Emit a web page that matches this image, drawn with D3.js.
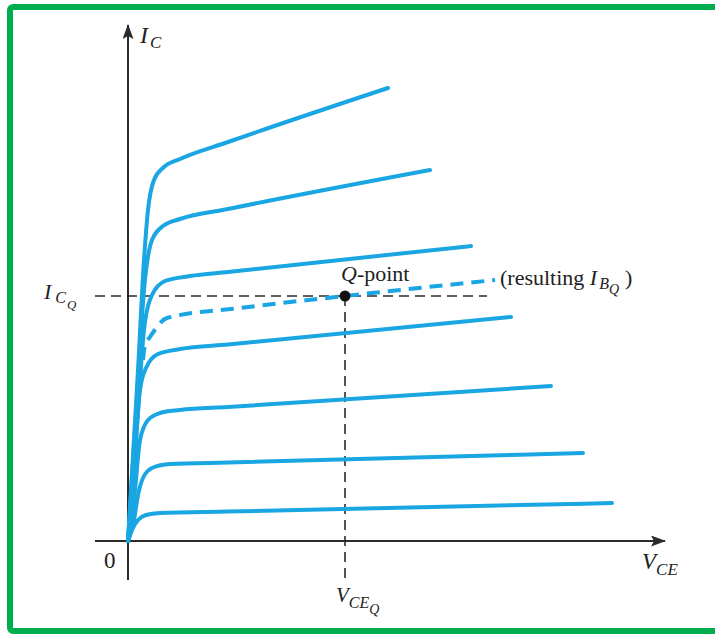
<!DOCTYPE html>
<html>
<head>
<meta charset="utf-8">
<script src="https://cdn.jsdelivr.net/npm/d3@7"></script>
<style>
  body { margin: 0; background: #fff; }
  text { font-family: "Liberation Serif", "DejaVu Serif", serif; fill: #222; }
</style>
</head>
<body>
<svg id="mainSVG" width="715" height="634"></svg>
<script>
// Curvas de saida (Vce, Ic), de baixo para cima
var curve1 = [[0,0],[0.16,0.22],[0.4,0.42],[0.72,0.52],[1.28,0.56],[4,0.59],[19.36,0.76]];
var curve2 = [[0,0],[0.24,0.42],[0.4,0.92],[0.6,1.26],[0.96,1.46],[1.68,1.54],[4,1.57],[18.2,1.76]];
var curve3 = [[0,0],[0.28,1.02],[0.48,2.02],[0.8,2.42],[1.28,2.56],[2.08,2.62],[4,2.68],[16.92,3.1]];
var curve4 = [[0,0],[0.24,1.42],[0.48,3.02],[0.72,3.46],[1.2,3.74],[2.08,3.84],[4,3.93],[15.32,4.48]];
var curve5 = [[0,0],[0.32,2.02],[0.64,4.22],[0.96,4.92],[1.48,5.2],[2.48,5.3],[4,5.38],[13.72,5.9]];
var curve6 = [[0,0],[0.36,2.82],[0.64,5.02],[0.96,6.02],[1.4,6.3],[2.08,6.44],[4,6.64],[12.08,7.42]];
var curve7 = [[0,0],[0.4,3.42],[0.64,5.62],[0.8,6.62],[1.04,7.22],[1.44,7.48],[2.08,7.64],[4,7.98],[10.4,9.06]];
// curva tracejada (I_BQ resultante)
var curveQ = [[0.6,3.62],[0.68,3.92],[0.88,4.08],[1.56,4.46],[4.48,4.66],[8.68,4.9],[14.68,5.22]];
// ponto Q
var qPoint = [8.68, 4.9];

var solidCurves = [curve1, curve2, curve3, curve4, curve5, curve6, curve7];

var mainSVG = d3.select("#mainSVG");
var blue = "#19a6e2";
var axisColor = "#2b2b2b";

// moldura verde
mainSVG.append("rect")
	.attr("x", 10).attr("y", 7)
	.attr("width", 740).attr("height", 624)
	.attr("rx", 3)
	.attr("fill", "none")
	.attr("stroke", "#00ad4f")
	.attr("stroke-width", 6);

// escalas
var xScale = d3.scaleLinear().domain([0, 20]).range([128, 628]);
var yScale = d3.scaleLinear().domain([0, 10]).range([541, 41]);

// setas
var defs = mainSVG.append("defs");
defs.append("marker")
	.attr("id", "arrow")
	.attr("viewBox", "0 0 15 11")
	.attr("refX", 14).attr("refY", 5.5)
	.attr("markerWidth", 15).attr("markerHeight", 11)
	.attr("markerUnits", "userSpaceOnUse")
	.attr("orient", "auto")
	.append("path")
	.attr("d", "M0,0 L15,5.5 L0,11 L3,5.5 Z")
	.attr("fill", axisColor);

// eixos
mainSVG.append("line")
	.attr("x1", xScale(0)).attr("x2", xScale(0))
	.attr("y1", yScale(-0.78)).attr("y2", yScale(10.32))
	.attr("stroke", axisColor).attr("stroke-width", 2)
	.attr("marker-end", "url(#arrow)");
mainSVG.append("line")
	.attr("x1", xScale(-1.32)).attr("x2", xScale(21.48))
	.attr("y1", yScale(0)).attr("y2", yScale(0))
	.attr("stroke", axisColor).attr("stroke-width", 2)
	.attr("marker-end", "url(#arrow)");

// linhas tracejadas do ponto Q
mainSVG.append("line")
	.attr("x1", xScale(-1.32)).attr("x2", xScale(14.36))
	.attr("y1", yScale(qPoint[1])).attr("y2", yScale(qPoint[1]))
	.attr("stroke", axisColor).attr("stroke-width", 1.6)
	.attr("stroke-dasharray", "10,6");
mainSVG.append("line")
	.attr("x1", xScale(qPoint[0])).attr("x2", xScale(qPoint[0]))
	.attr("y1", yScale(qPoint[1])).attr("y2", yScale(-0.74))
	.attr("stroke", axisColor).attr("stroke-width", 1.6)
	.attr("stroke-dasharray", "10,6");

// curvas
var line = d3.line()
	.x(function(d) { return xScale(d[0]); })
	.y(function(d) { return yScale(d[1]); })
	.curve(d3.curveMonotoneX);

mainSVG.selectAll(".curve")
	.data(solidCurves)
	.enter().append("path")
	.attr("class", "curve")
	.attr("d", line)
	.attr("fill", "none")
	.attr("stroke", blue)
	.attr("stroke-width", 4)
	.attr("stroke-linecap", "round");

mainSVG.append("path")
	.datum(curveQ)
	.attr("d", line)
	.attr("fill", "none")
	.attr("stroke", blue)
	.attr("stroke-width", 4)
	.attr("stroke-dasharray", "13,8");

// ponto Q
mainSVG.append("circle")
	.attr("cx", xScale(qPoint[0])).attr("cy", yScale(qPoint[1]))
	.attr("r", 5.5)
	.attr("fill", "#111");

// textos
function label(x, y, size) {
	return mainSVG.append("text").attr("x", x).attr("y", y).style("font-size", size + "px");
}

var ic = label(140, 43, 24);
ic.append("tspan").style("font-style", "italic").text("I");
ic.append("tspan").style("font-style", "italic").style("font-size", "17px").attr("dx", 2).attr("dy", 5).text("C");

var icq = label(44, 299, 22);
icq.append("tspan").style("font-style", "italic").text("I");
icq.append("tspan").style("font-style", "italic").style("font-size", "16px").attr("dx", 4).attr("dy", 4).text("C");
icq.append("tspan").style("font-style", "italic").style("font-size", "13px").attr("dx", 1).attr("dy", 6).text("Q");

var qp = label(341, 281, 22);
qp.append("tspan").style("font-style", "italic").text("Q");
qp.append("tspan").text("-point");

var res = label(500, 285, 22);
res.append("tspan").text("(resulting ");
res.append("tspan").style("font-style", "italic").text("I");
res.append("tspan").style("font-style", "italic").style("font-size", "16px").attr("dx", 2).attr("dy", 4).text("B");
res.append("tspan").style("font-style", "italic").style("font-size", "14px").attr("dy", 5).text("Q");
res.append("tspan").attr("dx", 6).attr("dy", -9).text(")");

label(104, 568, 23).text("0");

var vce = label(642, 569, 23);
vce.append("tspan").style("font-style", "italic").text("V");
vce.append("tspan").style("font-style", "italic").style("font-size", "17px").attr("dy", 6).text("CE");

var vceq = label(336, 602, 21);
vceq.append("tspan").style("font-style", "italic").text("V");
vceq.append("tspan").style("font-style", "italic").style("font-size", "16px").attr("dy", 6).text("CE");
vceq.append("tspan").style("font-style", "italic").style("font-size", "14px").attr("dy", 6).text("Q");
</script>
</body>
</html>
